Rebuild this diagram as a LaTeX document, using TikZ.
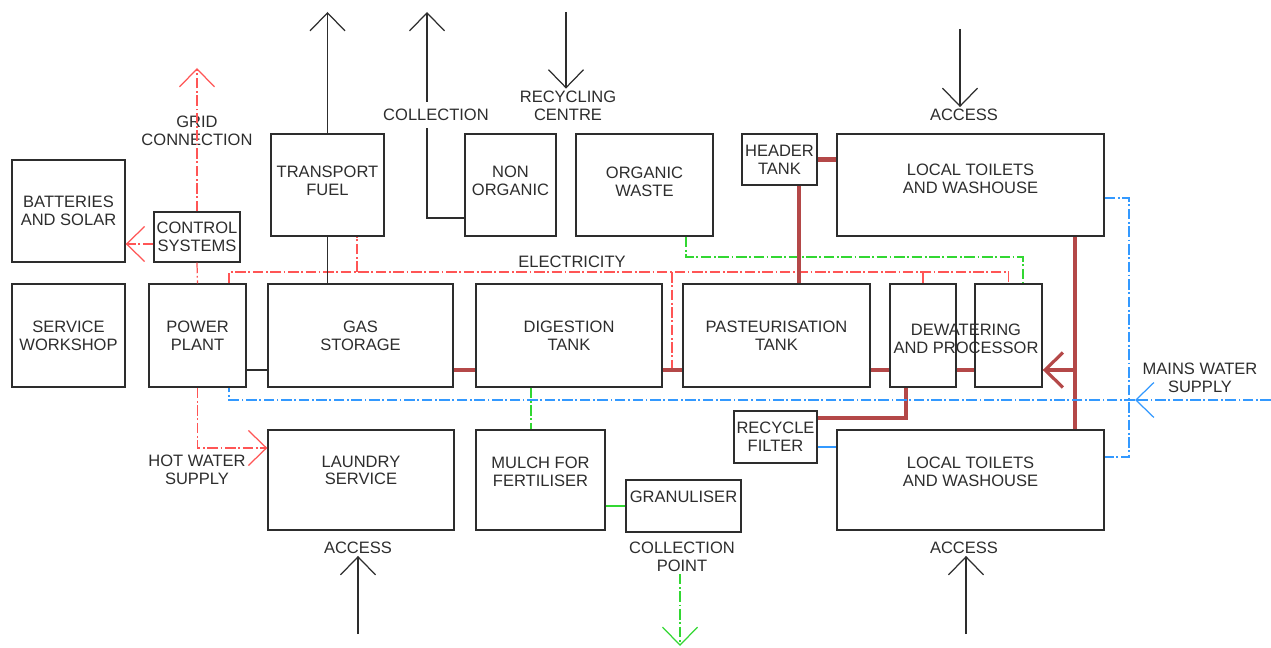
\documentclass[tikz,border=0pt]{standalone}
\usepackage{fontspec}
\setmainfont{Liberation Sans}
\usetikzlibrary{arrows.meta}

\definecolor{elecred}{RGB}{255,85,85}
\definecolor{waterblue}{RGB}{51,153,255}
\definecolor{mulchgreen}{RGB}{50,215,50}
\definecolor{pipebrown}{RGB}{180,72,72}
\definecolor{ink}{RGB}{45,45,45}

\begin{document}
\begin{tikzpicture}[x=0.02cm,y=-0.02cm,
        box/.style 2 args={draw=ink,line width=0.8pt,text=ink,minimum width=#1*0.02cm,minimum height=#2*0.02cm,inner sep=0pt,align=center,font=\fontsize{9.4}{10.2}\selectfont},
        lbl/.style={text=ink,align=center,font=\fontsize{9.4}{10.2}\selectfont,inner sep=1pt},
        flow/.style={draw=ink,line width=0.7pt},
        elec/.style={draw=elecred,line width=0.7pt,dash pattern=on 6pt off 1.5pt on 1pt off 1.5pt},
        water/.style={draw=waterblue,line width=0.7pt,dash pattern=on 6pt off 1.5pt on 1pt off 1.5pt},
        waterthin/.style={draw=waterblue,line width=0.7pt},
        mulch/.style={draw=mulchgreen,line width=0.7pt,dash pattern=on 6pt off 1.5pt on 1pt off 1.5pt},
        mulchthin/.style={draw=mulchgreen,line width=0.8pt},
        pipe/.style={draw=pipebrown,line width=2.4pt},
        riser/.style={draw=pipebrown,line width=1.8pt},
        barb/.style={-{Straight Barb[length=3.6mm,width=7mm]}}]
        \useasboundingbox (0,0) rectangle (1271,648);
        \node [box={113}{102}] (batt) at (68.5,211) {BATTERIES\\AND SOLAR};
        \node [box={86}{50}] (ctrl) at (197,237) {CONTROL\\SYSTEMS};
        \node [box={113}{102},text depth=4.5pt] (fuel) at (327.5,185) {TRANSPORT\\FUEL};
        \node [box={91}{102},text depth=4.5pt] (nonorg) at (510.5,185) {NON\\ORGANIC};
        \node [box={137}{102},text depth=3.5pt] (organic) at (644.5,185) {ORGANIC\\WASTE};
        \node [box={75}{51}] (header) at (779.5,159.5) {HEADER\\TANK};
        \node [box={267}{102},text depth=7pt] (toiletsup) at (970.5,185) {LOCAL TOILETS\\AND WASHOUSE};
        \node [box={113}{103}] (workshop) at (68.5,335.5) {SERVICE\\WORKSHOP};
        \node [box={97}{103}] (power) at (197.5,335.5) {POWER\\PLANT};
        \node [box={185}{103}] (gas) at (360.5,335.5) {GAS\\STORAGE};
        \node [box={186}{103}] (digest) at (569,335.5) {DIGESTION\\TANK};
        \node [box={187}{103}] (pasteur) at (776.5,335.5) {PASTEURISATION\\TANK};
        \node [box={66}{103}] (dewa) at (923,335.5) {};
        \node [box={67}{103}] (dewb) at (1008.5,335.5) {};
        \node [lbl] (dewtext) at (966,339) {DEWATERING\\AND PROCESSOR};
        \node [box={186}{100},text depth=11pt] (laundry) at (361,480) {LAUNDRY\\SERVICE};
        \node [box={129}{100},text depth=9pt] (mulch) at (540.5,480) {MULCH FOR\\FERTILISER};
        \node [box={115}{52},text depth=11pt] (gran) at (683.5,506) {GRANULISER};
        \node [box={83}{52}] (recycle) at (775.5,437) {RECYCLE\\FILTER};
        \node [box={267}{100},text depth=9pt] (toiletslo) at (970.5,480) {LOCAL TOILETS\\AND WASHOUSE};

        \node [lbl] (grid) at (197,131) {GRID\\CONNECTION};
        \node [lbl,inner sep=4pt] (collect) at (436,115) {COLLECTION};
        \node [lbl] (recycling) at (568,105.5) {RECYCLING\\CENTRE};
        \node [lbl] (accessup) at (964,115) {ACCESS};
        \node [lbl] (electricity) at (572,262) {ELECTRICITY};
        \node [lbl] (hotwater) at (197,470) {HOT WATER\\SUPPLY};
        \node [lbl] (accessl) at (358,548) {ACCESS};
        \node [lbl] (cpoint) at (682,557) {COLLECTION\\POINT};
        \node [lbl] (accessr) at (964,548) {ACCESS};
        \node [lbl] (mains) at (1200,378) {MAINS WATER\\SUPPLY};

        \coordinate (gridtip) at (197,68);
        \coordinate (fueltip) at (327.5,12);
        \coordinate (colltip) at (427,12);
        \coordinate (recytop) at (566,12);
        \coordinate (acctop) at (960,29);
        \coordinate (accbl) at (358,634);
        \coordinate (accbr) at (966,634);
        \coordinate (cptip) at (680,646);
        \coordinate (ebus) at (229,272);
        \coordinate (gbus) at (686,257);
        \coordinate (pipey) at (0,370);
        \coordinate (wbus) at (1075,370);
        \coordinate (wmain) at (1135,400);
        \coordinate (wend) at (1271,400);
        \coordinate (wret) at (1129,400);

        \draw[elec,barb] (ctrl.north) -- (gridtip);
        \draw[elec,barb] (ctrl.west |- 0,244) -- (batt.east |- 0,244);
        \draw[elec] (ctrl.south) -- (power.north);
        \draw[elec] (power.north -| ebus) -- (ebus) -| (dewb.north);
        \draw[elec] (ebus -| 357,0) -- (fuel.south -| 357,0);
        \draw[elec] (ebus -| 672,0) -- (pipey -| 672,0);
        \draw[elec] (ebus -| dewa.north) -- (dewa.north);
        \draw[elec,barb] (power.south) |- (laundry.west |- 0,448);

        \draw[flow,barb] (fuel.north) -- (fueltip);
        \draw[flow] (fuel.south) -- (gas.north -| fuel.south);
        \draw[flow] (power.east |- pipey) -- (gas.west |- pipey);
        \draw[flow] (nonorg.west |- 0,218) -| (colltip |- collect.south);
        \draw[flow,barb] (colltip |- collect.north) -- (colltip);
        \draw[flow,barb] (recytop) -- (recycling.north -| recytop);
        \draw[flow,barb] (acctop) -- (accessup.north -| acctop);
        \draw[flow,barb] (accbl) -- (accessl.south -| accbl);
        \draw[flow,barb] (accbr) -- (accessr.south -| accbr);

        \draw[mulch] (organic.south -| gbus) -- (gbus) -| (dewb.north -| 1023,0);
        \draw[mulch] (digest.south -| 531,0) -- (mulch.north -| 531,0);
        \draw[mulchthin] (mulch.east |- gran.west) -- (gran.west);
        \draw[mulch,barb] (cpoint.south -| cptip) -- (cptip);

        \draw[pipe] (gas.east |- pipey) -- (digest.west |- pipey);
        \draw[pipe] (digest.east |- pipey) -- (pasteur.west |- pipey);
        \draw[pipe] (pasteur.east |- pipey) -- (dewa.west |- pipey);
        \draw[pipe] (dewa.east |- pipey) -- (dewb.west |- pipey);
        \draw[pipe] (header.east) -- (toiletsup.west |- header.east);
        \draw[riser] (header.south -| 799,0) -- (pasteur.north -| 799,0);
        \draw[riser] (toiletsup.south -| wbus) -- (toiletslo.north -| wbus);
        \draw[riser,barb] (wbus) -- (dewb.east |- wbus);
        \draw[riser] (recycle.east |- 0,418) -| (dewa.south -| 906,0);

        \draw[water,barb] (wend) -- (wmain);
        \draw[water] (wmain) -- (wmain -| ebus) -- (power.south -| ebus);
        \draw[water] (toiletsup.east |- 0,198) -| (wret) |- (toiletslo.east |- 0,457);
        \draw[waterthin] (recycle.east |- 0,447) -- (toiletslo.west |- 0,447);
\end{tikzpicture}
\end{document}
